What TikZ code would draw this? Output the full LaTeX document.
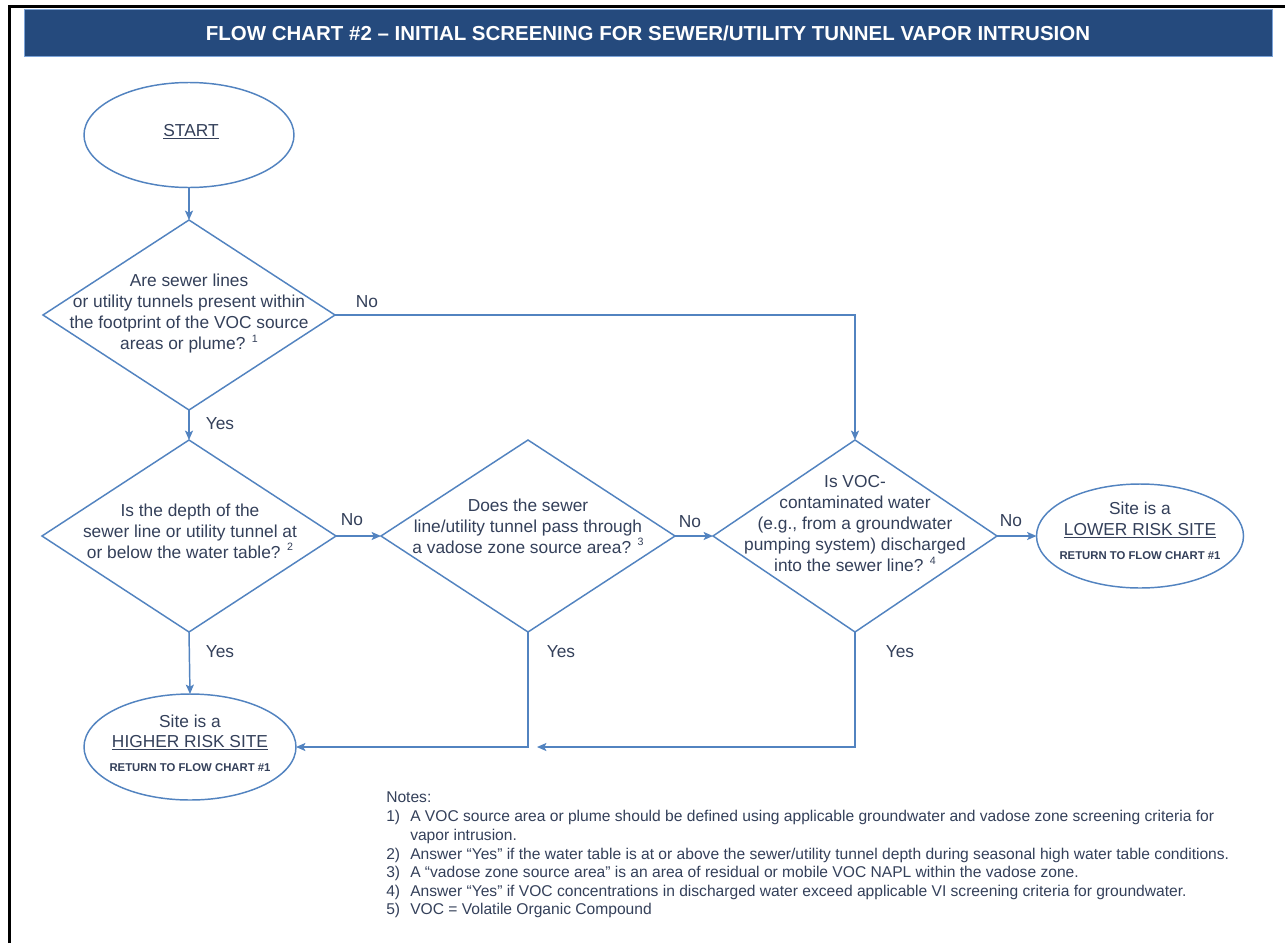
\documentclass[tikz,border=0pt]{standalone}
\usepackage{fontspec}
\usepackage{graphicx}
\setmainfont{Liberation Sans}
\usetikzlibrary{shapes.geometric,arrows.meta}
\definecolor{lineblue}{HTML}{5283C0}
\definecolor{textcol}{HTML}{34405A}
\definecolor{titlebg}{HTML}{254A7D}
\definecolor{titleedge}{HTML}{7BA3D8}
\newcommand\supn[1]{\raisebox{0.42em}{\fontsize{8}{8}\selectfont #1}}
\begin{document}
\begin{tikzpicture}[x=0.75pt,y=-0.75pt,
  conn/.style={draw=lineblue, line width=1.1pt},
  arr/.style={conn, -{Stealth[length=7pt,width=6pt,inset=1.5pt]}},
  dia/.style={diamond, draw=lineblue, line width=1.1pt, inner sep=0pt, outer sep=0pt},
  ell/.style={ellipse, draw=lineblue, line width=1.1pt, inner sep=0pt, outer sep=0pt},
  txt/.style={text=textcol, font=\fontsize{13}{15.75}\selectfont, align=center, inner sep=0pt},
  lbl/.style={text=textcol, font=\fontsize{13}{15.75}\selectfont, inner sep=0pt},
  ret/.style={text=textcol, font=\bfseries\fontsize{8.5}{10}\selectfont, inner sep=0pt, anchor=base},
  notes/.style={text=textcol, font=\fontsize{11.7}{14}\selectfont, inner sep=0pt, anchor=base west}
]
\useasboundingbox (0,0) rectangle (1285,943);
\fill[white] (0,0) rectangle (1285,943);
% frame
\draw[black, line width=2.25pt] (9,943) -- (9,6) -- (1285,6);
% title
\node[fill=titlebg, draw=titleedge, line width=0.75pt, minimum width=1248*0.75pt, minimum height=47*0.75pt, inner sep=0pt] (title) at (648,32.5) {};
\node[text=white, inner sep=0pt] (titletext) at (648,33) {\resizebox{663pt}{11pt}{\bfseries FLOW CHART \#2 – INITIAL SCREENING FOR SEWER/UTILITY TUNNEL VAPOR INTRUSION}};

% start
\node[ell, minimum width=210*0.75pt, minimum height=105*0.75pt] (start) at (189,135) {};
\node[txt] (starttext) at (191,132) {\underline{START}};

% diamonds
\node[dia, minimum width=292*0.75pt, minimum height=190*0.75pt] (d1) at (189,315) {};
\node[txt] (d1t) at (189,314) {Are sewer lines\\or utility tunnels present within\\the footprint of the VOC source\\areas or plume? \supn{1}};

\node[dia, minimum width=294*0.75pt, minimum height=192*0.75pt] (d2) at (189,536) {};
\node[txt] (d2t) at (190,531) {Is the depth of the\\sewer line or utility tunnel at\\or below the water table? \supn{2}};

\node[dia, minimum width=294*0.75pt, minimum height=192*0.75pt] (d3) at (528,536) {};
\node[txt] (d3t) at (528,526) {Does the sewer\\line/utility tunnel pass through\\a vadose zone source area? \supn{3}};

\node[dia, minimum width=284*0.75pt, minimum height=192*0.75pt] (d4) at (855,536) {};
\node[txt] (d4t) at (855,524) {Is VOC-\\contaminated water\\(e.g., from a groundwater\\pumping system) discharged\\into the sewer line? \supn{4}};

% end ellipses
\node[ell, minimum width=212*0.75pt, minimum height=106*0.75pt] (higher) at (190,747) {};
\node[txt, anchor=base] (h1) at (190,727) {Site is a};
\node[txt, anchor=base] (h2) at (190,747) {\underline{HIGHER RISK SITE}};
\node[ret] (h3) at (190,771) {RETURN TO FLOW CHART \#1};

\node[ell, minimum width=207*0.75pt, minimum height=104*0.75pt] (lower) at (1140,536) {};
\node[txt, anchor=base] (l1) at (1140,514) {Site is a};
\node[txt, anchor=base] (l2) at (1140,535) {\underline{LOWER RISK SITE}};
\node[ret] (l3) at (1140,559) {RETURN TO FLOW CHART \#1};

% connectors
\draw[arr] (start.south) -- (d1.north);
\draw[arr] (d1.south) -- (d2.north);
\draw[arr] (d1.east) -| (d4.north);
\draw[arr] (d2.east) -- (d3.west);
\draw[arr] (d3.east) -- (d4.west);
\draw[arr] (d4.east) -- (lower.west);
\draw[arr] (d2.south) -- (higher.north);
\draw[arr] (d3.south) |- (higher.east);
\coordinate (yj) at (537,747);
\draw[arr] (d4.south) |- (yj);

% labels
\node[lbl] (lno1) at (367,302) {No};
\node[lbl] (lyes1) at (220,424) {Yes};
\node[lbl] (lno2) at (352,520) {No};
\node[lbl] (lno3) at (690,522) {No};
\node[lbl] (lno4) at (1011,521) {No};
\node[lbl] (lyes2) at (220,652) {Yes};
\node[lbl] (lyes3) at (561,652) {Yes};
\node[lbl] (lyes4) at (900,652) {Yes};

% notes
\node[notes] (n0) at (386,802) {Notes:};
\node[notes] (n1n) at (386,821) {1)};
\node[notes] (n1) at (410,821) {A VOC source area or plume should be defined using applicable groundwater and vadose zone screening criteria for};
\node[notes] (n1b) at (410,840) {vapor intrusion.};
\node[notes] (n2n) at (386,859) {2)};
\node[notes] (n2) at (410,859) {Answer “Yes” if the water table is at or above the sewer/utility tunnel depth during seasonal high water table conditions.};
\node[notes] (n3n) at (386,877) {3)};
\node[notes] (n3) at (410,877) {A “vadose zone source area” is an area of residual or mobile VOC NAPL within the vadose zone.};
\node[notes] (n4n) at (386,896) {4)};
\node[notes] (n4) at (410,896) {Answer “Yes” if VOC concentrations in discharged water exceed applicable VI screening criteria for groundwater.};
\node[notes] (n5n) at (386,914) {5)};
\node[notes] (n5) at (410,914) {VOC = Volatile Organic Compound};
\end{tikzpicture}
\end{document}
